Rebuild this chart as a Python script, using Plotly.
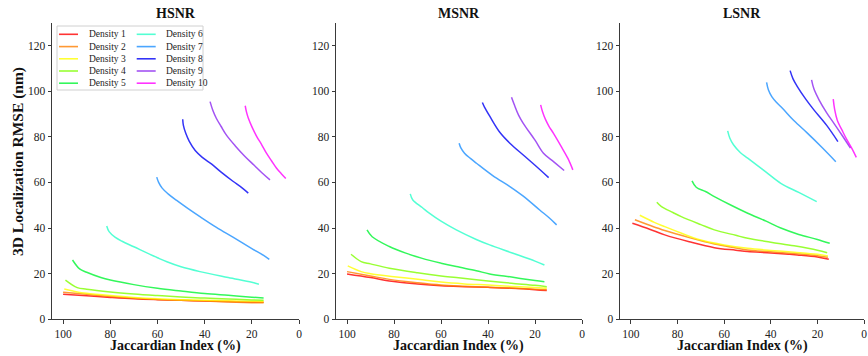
import plotly.graph_objects as go
from plotly.subplots import make_subplots

# ---- data -------------------------------------------------------------
panel_titles = ["HSNR", "MSNR", "LSNR"]
density_names = [f"Density {i}" for i in range(1, 11)]
density_colors = [
    "rgba(255,0,0,0.8)", "rgba(255,128,0,0.8)", "rgba(255,255,0,0.8)",
    "rgba(128,255,0,0.8)", "rgba(0,245,50,0.8)", "rgba(40,255,200,0.8)",
    "rgba(30,144,255,0.8)", "rgba(0,0,245,0.8)", "rgba(140,40,240,0.8)",
    "rgba(255,0,255,0.8)",
]

# HSNR: Jaccardian index (%) and 3D RMSE (nm) per density
hsnr_x = [
    [100, 90, 80, 70, 60, 50, 40, 30, 20, 15],
    [100, 90, 80, 70, 60, 50, 40, 30, 20, 15],
    [99.5, 94, 90, 80, 70, 60, 50, 40, 30, 20, 15],
    [99, 94, 90, 80, 70, 60, 50, 40, 30, 20, 15],
    [96, 93, 90, 84, 80, 70, 60, 50, 40, 30, 20, 15],
    [81.5, 80.5, 78, 75, 70, 60, 56, 50, 42, 30, 20, 17],
    [60.3, 59.5, 58, 55.5, 52, 47, 42, 35, 28, 20, 15, 12.6],
    [49.3, 49.0, 48.0, 46.5, 44.0, 41.0, 37.0, 33.0, 28.0, 24.0, 21.5],
    [37.7, 36.5, 35, 33, 30.6, 27, 23, 19, 15.5, 12.3],
    [22.8, 22.3, 21.5, 19.8, 17.9, 15.8, 13.8, 11.6, 9.5, 7.5, 5.6],
]
hsnr_y = [
    [11.0, 10.3, 9.6, 9.0, 8.6, 8.3, 8.0, 7.8, 7.6, 7.5],
    [11.9, 11.0, 10.0, 9.3, 8.7, 8.3, 8.0, 7.6, 7.3, 7.2],
    [13.3, 12.0, 11.4, 10.4, 9.6, 9.0, 8.6, 8.3, 8.1, 7.9, 7.8],
    [17.2, 13.9, 13.2, 12.0, 11.1, 10.4, 9.8, 9.3, 8.9, 8.5, 8.3],
    [26.0, 22.1, 20.6, 18.3, 17.2, 15.2, 13.6, 12.4, 11.3, 10.5, 9.7, 9.3],
    [40.9, 38.4, 36.0, 34.2, 31.8, 27.0, 25.2, 23.0, 20.9, 18.3, 16.2, 15.4],
    [62.3, 60.0, 57.5, 55.0, 52.2, 48.5, 45.0, 40.3, 36.0, 31.0, 28.0, 26.3],
    [87.7, 85.0, 81.5, 78.0, 74.0, 71.0, 68.0, 64.5, 60.5, 57.5, 55.3],
    [95.4, 91.5, 88.0, 84.5, 80.5, 76.0, 71.5, 67.5, 64.0, 61.1],
    [93.6, 91.0, 88.2, 84.0, 80.1, 76.5, 72.8, 69.4, 66.2, 63.8, 61.7],
]

# MSNR
msnr_x = [
    [100, 90, 82, 70, 60, 50, 40, 30, 20, 15],
    [100, 90, 82, 70, 60, 50, 40, 30, 20, 15],
    [99.7, 94, 90, 80, 68, 60, 50, 40, 30, 20, 15],
    [98.3, 94, 90, 82, 70, 60, 53.5, 40, 30, 20, 15],
    [91.5, 89.3, 82, 75, 68, 60, 53.5, 45, 39.3, 30, 20, 16],
    [73.1, 72, 68, 65, 60, 53.5, 45, 39.3, 30, 20, 16],
    [52.3, 51.5, 50, 47.5, 44.9, 38, 30.7, 25, 18, 14, 10.8],
    [42.4, 41.5, 39.2, 35, 30.7, 25, 20, 14.2],
    [30.0, 28.8, 27, 25.0, 20, 16.4, 12, 7.6],
    [17.6, 16.8, 15.5, 14, 12.2, 9, 6, 3.9],
]
msnr_y = [
    [19.9, 18.3, 16.8, 15.5, 14.7, 14.3, 14.0, 13.6, 13.0, 12.6],
    [20.9, 19.0, 17.5, 16.0, 15.0, 14.5, 14.1, 13.7, 13.2, 12.9],
    [23.4, 20.9, 20.0, 18.7, 17.3, 16.3, 15.5, 15.0, 14.4, 13.9, 13.6],
    [28.5, 25.3, 24.3, 22.4, 20.4, 19.0, 18.3, 16.8, 15.8, 14.9, 14.3],
    [39.2, 36.2, 31.9, 29.0, 26.7, 24.6, 23.1, 21.3, 19.9, 18.5, 17.0, 16.5],
    [55.0, 52.3, 49.0, 46.5, 43.0, 39.2, 35.0, 32.6, 29.2, 25.5, 23.8],
    [77.2, 75.0, 72.8, 70.5, 68.4, 63.0, 58.2, 54.0, 47.9, 44.5, 41.4],
    [95.0, 93.0, 88.9, 82.0, 77.2, 72.0, 67.5, 62.1],
    [97.3, 94.0, 89.5, 85.9, 78.5, 72.8, 69.0, 65.2],
    [94.0, 91.0, 87.5, 84.5, 81.6, 76.0, 70.5, 65.5],
]

# LSNR
lsnr_x = [
    [99.4, 92, 85.5, 75, 64.2, 55, 50, 40, 28.6, 20, 15.1],
    [98.3, 92, 85.5, 75, 64.2, 55, 50, 40, 30, 20, 15.5],
    [96.2, 90, 85.5, 78, 71.3, 60, 50, 40, 30, 20, 15.5],
    [88.9, 86.9, 82, 78.4, 70, 64.2, 55, 49.9, 40, 30, 20, 15.8],
    [73.8, 72, 68, 64.2, 57, 49.9, 42, 35.7, 28, 20, 14.7],
    [58.5, 57.6, 56, 53, 49.9, 42, 35.7, 28, 20.3],
    [41.8, 41, 39.5, 37.5, 35, 30, 24.3, 18, 12.1],
    [31.7, 30.5, 28.6, 25, 21.5, 16, 11.2],
    [22.5, 21.5, 19.3, 16, 12.9, 9, 5.8],
    [13.2, 12.6, 11.5, 9, 7.3, 5, 3.3],
]
lsnr_y = [
    [42.1, 39.5, 37.0, 34.0, 31.4, 30.3, 29.7, 29.1, 28.2, 27.3, 26.3],
    [43.6, 41.2, 38.9, 35.8, 33.0, 31.3, 30.4, 29.6, 28.8, 27.9, 27.2],
    [45.6, 42.5, 40.6, 37.6, 35.1, 32.6, 31.1, 30.2, 29.4, 28.5, 27.8],
    [51.3, 49.4, 46.8, 45.0, 41.5, 39.2, 36.8, 35.5, 33.8, 32.2, 30.3, 29.2],
    [60.7, 57.9, 56.0, 53.8, 50.0, 46.5, 43.0, 40.0, 37.2, 35.0, 33.3],
    [82.6, 79.5, 76.5, 73.0, 70.6, 64.5, 59.6, 55.6, 51.6],
    [103.8, 100.5, 97.5, 95.0, 92.5, 87.0, 81.6, 75.3, 69.1],
    [109.0, 105.5, 102.0, 96.5, 91.8, 85.0, 77.9],
    [104.9, 101.0, 96.2, 90.5, 85.9, 80.0, 75.0],
    [96.5, 92.0, 87.4, 82.0, 78.6, 74.5, 71.0],
]

x_ticks = [100, 80, 60, 40, 20, 0]
y_ticks = [0, 20, 40, 60, 80, 100, 120]

# ---- figure -----------------------------------------------------------
W, H = 868, 356
SERIF = "Liberation Serif, Times New Roman, serif"
AXIS_COLOR = "#3a3a3a"

fig = make_subplots(rows=1, cols=3)

panels = [(hsnr_x, hsnr_y), (msnr_x, msnr_y), (lsnr_x, lsnr_y)]
for col, (px, py) in enumerate(panels, start=1):
    for name, color, xs, ys in zip(density_names, density_colors, px, py):
        fig.add_trace(
            go.Scatter(
                x=xs, y=ys, mode="lines", name=name, showlegend=False,
                line=dict(color=color, width=1.5, shape="spline", smoothing=1.0),
            ),
            row=1, col=col,
        )

# panel placement in pixels (left, right) -> paper fractions
panel_px = [(52, 299), (336, 582), (620, 864)]
plot_top, plot_bottom = 22.7, 319.3
ydom = [1 - plot_bottom / H, 1 - plot_top / H]

tick_font = dict(family=SERIF, size=11.5, color="#222")
for i, (l, r) in enumerate(panel_px, start=1):
    sfx = "" if i == 1 else str(i)
    fig.layout["xaxis" + sfx].update(
        domain=[l / W, r / W], range=[104.7, 0], tickvals=x_ticks,
        showline=True, linecolor=AXIS_COLOR, linewidth=1,
        ticks="outside", ticklen=3.5, tickcolor=AXIS_COLOR,
        showgrid=False, zeroline=False, automargin=False, tickfont=tick_font,
    )
    fig.layout["yaxis" + sfx].update(
        domain=ydom, range=[0, 130], tickvals=y_ticks,
        showline=True, linecolor=AXIS_COLOR, linewidth=1,
        ticks="outside", ticklen=3.5, tickcolor=AXIS_COLOR,
        showgrid=False, zeroline=False, automargin=False, tickfont=tick_font,
    )

annotations = []
for title, (l, r) in zip(panel_titles, panel_px):
    cx = (l + r) / 2 / W
    annotations.append(dict(
        text=f"<b>{title}</b>", x=cx, y=1 - 13.5 / H, xref="paper", yref="paper",
        xanchor="center", yanchor="middle", showarrow=False,
        font=dict(family=SERIF, size=14, color="#111"),
    ))
    annotations.append(dict(
        text="<b>Jaccardian Index (%)</b>", x=cx, y=1 - 345.5 / H,
        xref="paper", yref="paper", xanchor="center", yanchor="middle",
        showarrow=False, font=dict(family=SERIF, size=14, color="#111"),
    ))
annotations.append(dict(
    text="<b>3D Localization RMSE (nm)</b>", x=18 / W, y=1 - 162 / H,
    xref="paper", yref="paper", xanchor="center", yanchor="middle",
    textangle=-90, showarrow=False,
    font=dict(family=SERIF, size=15.5, color="#111"),
))

# legend box: two columns of five entries in the first panel
shapes = [dict(
    type="rect", xref="paper", yref="paper",
    x0=57 / W, x1=203 / W, y0=1 - 90 / H, y1=1 - 26 / H,
    line=dict(color="#d0d0d0", width=1), fillcolor="rgba(255,255,255,0.8)",
    layer="above",
)]
row_y = [34.3, 46.6, 58.8, 71.0, 83.2]
col_x = [(59, 78, 86.7), (136.7, 155.7, 164.3)]
for k, (name, color) in enumerate(zip(density_names, density_colors)):
    x0, x1, xt = col_x[k // 5]
    yy = 1 - row_y[k % 5] / H
    shapes.append(dict(
        type="line", xref="paper", yref="paper",
        x0=x0 / W, x1=x1 / W, y0=yy, y1=yy,
        line=dict(color=color, width=1.6), layer="above",
    ))
    annotations.append(dict(
        text=name, x=xt / W, y=yy, xref="paper", yref="paper",
        xanchor="left", yanchor="middle", showarrow=False,
        font=dict(family=SERIF, size=9.5, color="#222"),
    ))

fig.update_layout(
    width=W, height=H, margin=dict(l=0, r=0, t=0, b=0),
    paper_bgcolor="white", plot_bgcolor="white",
    showlegend=False, annotations=annotations, shapes=shapes,
)

fig.write_html("out.html")
